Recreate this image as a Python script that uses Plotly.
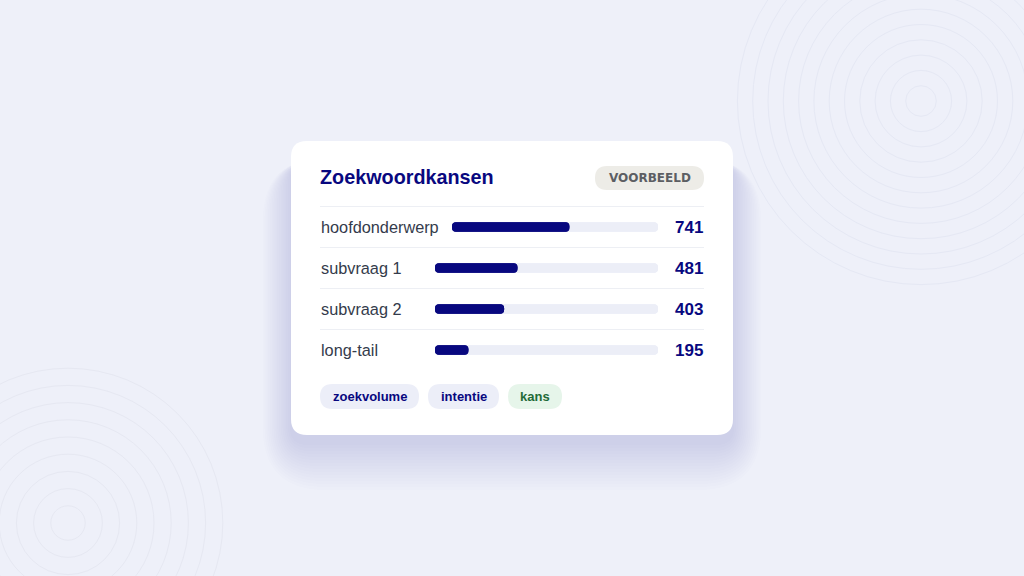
import plotly.graph_objects as go

# ---- data ----
categories = ["hoofdonderwerp", "subvraag 1", "subvraag 2", "long-tail"]
values = [741, 481, 403, 195]
scale_max = 1300
title_text = "Zoekwoordkansen"
badge_text = "VOORBEELD"
tags = ["zoekvolume", "intentie", "kans"]

# ---- layout constants ----
W, H = 1024, 576
BG = "#EEF0F9"
NAVY = "#08087F"
TRACK = "#ECEEF7"
LABEL = "#343B4B"
SANS = "Liberation Sans, Arial, sans-serif"

def px(x):
    return x / W

def py(y):
    return 1 - y / H

def rrect(x0, y0, x1, y1, r):
    pts = [
        f"M {px(x0 + r)} {py(y0)}",
        f"L {px(x1 - r)} {py(y0)}",
        f"Q {px(x1)} {py(y0)} {px(x1)} {py(y0 + r)}",
        f"L {px(x1)} {py(y1 - r)}",
        f"Q {px(x1)} {py(y1)} {px(x1 - r)} {py(y1)}",
        f"L {px(x0 + r)} {py(y1)}",
        f"Q {px(x0)} {py(y1)} {px(x0)} {py(y1 - r)}",
        f"L {px(x0)} {py(y0 + r)}",
        f"Q {px(x0)} {py(y0)} {px(x0 + r)} {py(y0)}",
        "Z",
    ]
    return " ".join(pts)

shapes = []

def rings(cx, cy, step, n, color):
    for k in range(1, n + 1):
        r = step * k
        shapes.append(dict(type="circle", xref="paper", yref="paper",
                           x0=px(cx - r), x1=px(cx + r), y0=py(cy + r), y1=py(cy - r),
                           line=dict(color=color, width=1), layer="below"))

rings(921, 101, 15.3, 12, "#E5E8F4")
rings(68, 523, 17.2, 9, "#E6E8F2")

# card shadow
CX0, CY0, CX1, CY1 = 291, 141, 733, 435
for i in range(16):
    e = 2 + i * 3
    shapes.append(dict(type="path", xref="paper", yref="paper",
                       path=rrect(CX0 - e * 0.6, CY0 + 22 - e * 0.1, CX1 + e * 0.6, CY1 + 8 + e, 16 + e),
                       fillcolor="rgba(70,80,170,0.010)", line=dict(width=0), layer="below"))

# card
shapes.append(dict(type="path", xref="paper", yref="paper",
                   path=rrect(CX0, CY0, CX1, CY1, 16),
                   fillcolor="#FFFFFF", line=dict(width=0), layer="below"))

# badge pill
shapes.append(dict(type="path", xref="paper", yref="paper",
                   path=rrect(595, 166, 704, 190, 12),
                   fillcolor="#EDECE7", line=dict(width=0), layer="below"))

# dividers
for yy in [206.5, 247.5, 288.5, 329.5]:
    shapes.append(dict(type="line", xref="paper", yref="paper",
                       x0=px(320), x1=px(704), y0=py(yy), y1=py(yy),
                       line=dict(color="#EDEFF4", width=1), layer="below"))

# tag pills
tag_widths = [99, 71, 54]
tag_gap = 9
tag_bg = ["#ECEEF8", "#ECEEF8", "#E6F5EA"]
tag_fg = [NAVY, NAVY, "#1F6B38"]
annotations = []
tx = 320
for t, w, bgc, fgc in zip(tags, tag_widths, tag_bg, tag_fg):
    shapes.append(dict(type="path", xref="paper", yref="paper",
                       path=rrect(tx, 384, tx + w, 409, 12.5),
                       fillcolor=bgc, line=dict(width=0), layer="below"))
    annotations.append(dict(x=px(tx + w / 2), y=py(396.5), xref="paper", yref="paper",
                            text=f"<b>{t}</b>", showarrow=False, xanchor="center", yanchor="middle",
                            font=dict(family=SANS, size=13, color=fgc)))
    tx += w + tag_gap

# title and badge
annotations.append(dict(x=px(318), y=py(177), xref="paper", yref="paper", text=f"<b>{title_text}</b>",
                        showarrow=False, xanchor="left", yanchor="middle",
                        font=dict(family=SANS, size=19.8, color=NAVY)))
annotations.append(dict(x=px(649.5), y=py(178), xref="paper", yref="paper", text=f"<b>{badge_text}</b>",
                        showarrow=False, xanchor="center", yanchor="middle",
                        font=dict(family="DejaVu Sans", size=12, color="#5C5E63")))

# row labels and values
row_centers = [227, 268, 309, 350]
for cat, v, yc in zip(categories, values, row_centers):
    annotations.append(dict(x=px(318.5), y=py(yc), xref="paper", yref="paper", text=cat,
                            showarrow=False, xanchor="left", yanchor="middle",
                            font=dict(family=SANS, size=16.3, color=LABEL)))
    annotations.append(dict(x=px(705), y=py(yc), xref="paper", yref="paper", text=f"<b>{v}</b>",
                            showarrow=False, xanchor="right", yanchor="middle",
                            font=dict(family=SANS, size=17, color=NAVY)))

# bars (track + fill, each drawn twice in opposite directions to round both ends)
fig = go.Figure()
bw = 0.235
for i, (cat, v) in enumerate(zip(categories, values)):
    xa = "x" if i == 0 else "x2"
    for length, color in [(scale_max, TRACK), (v, NAVY)]:
        fig.add_trace(go.Bar(x=[length], y=[cat], base=[0], orientation="h", xaxis=xa, yaxis="y",
                             width=bw, marker=dict(color=color, cornerradius="50%", line=dict(width=0)),
                             hoverinfo="skip"))
        fig.add_trace(go.Bar(x=[-length], y=[cat], base=[length], orientation="h", xaxis=xa, yaxis="y",
                             width=bw, marker=dict(color=color, cornerradius="50%", line=dict(width=0)),
                             hoverinfo="skip"))

fig.update_layout(
    width=W, height=H, margin=dict(l=0, r=0, t=0, b=0),
    paper_bgcolor=BG, plot_bgcolor="rgba(0,0,0,0)",
    barmode="overlay", showlegend=False, hovermode=False,
    xaxis=dict(domain=[px(452), px(658)], range=[0, scale_max], visible=False, fixedrange=True, anchor="y"),
    xaxis2=dict(domain=[px(435), px(658)], range=[0, scale_max], visible=False, fixedrange=True, anchor="y"),
    yaxis=dict(domain=[py(370.5), py(206.5)], type="category", categoryorder="array",
               categoryarray=categories, range=[3.5, -0.5], visible=False, fixedrange=True, anchor="x"),
    shapes=shapes, annotations=annotations,
)

fig.write_html("out.html", config={"displayModeBar": False},
               post_script="document.body.style.margin='0';document.body.style.overflow='hidden';")
